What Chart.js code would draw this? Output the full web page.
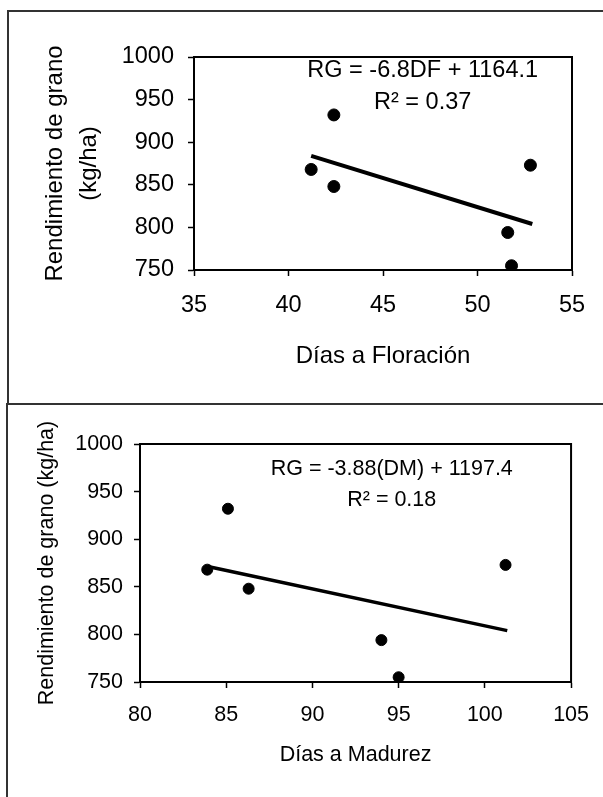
<!DOCTYPE html>
<html>
<head>
<meta charset="utf-8">
<script src="https://cdn.jsdelivr.net/npm/chart.js@4.4.1/dist/chart.umd.min.js"></script>
<style>
  html, body { margin: 0; padding: 0; background: #fff; }
  body { position: relative; width: 603px; height: 797px; overflow: hidden; }
  .caja1 { position: absolute; left: 7px; top: 10px; width: 800px; height: 391px; border: 2px solid #333; border-right: none; }
  .caja2 { position: absolute; left: 6px; top: 403px; width: 800px; height: 500px; border-left: 2px solid #333; }
  canvas { position: absolute; left: 0; }
</style>
</head>
<body>
<div class="caja1"></div>
<div class="caja2"></div>
<canvas id="floracion" width="603" height="403" style="top:0"></canvas>
<canvas id="madurez" width="603" height="394" style="top:403px"></canvas>
<script>
// rendimiento de grano (kg/ha), mismo orden en ambos graficos
const rendimiento = [868, 932, 848, 794, 755, 873];
const diasFloracion = [41.2, 42.4, 42.4, 51.6, 51.8, 52.8];
const diasMadurez = [83.9, 85.1, 86.3, 94.0, 95.0, 101.2];

// lineas de tendencia (extremos)
const tendFloracionX = [41.2, 52.9];
const tendFloracionY = [884, 804];
const tendMadurezX = [84.0, 101.3];
const tendMadurezY = [871, 804];

const ticksRendimiento = [750, 800, 850, 900, 950, 1000];
const ticksFloracion = [35, 40, 45, 50, 55];
const ticksMadurez = [80, 85, 90, 95, 100, 105];

const ecFloracion = ['RG = -6.8DF + 1164.1', 'R\u00B2 = 0.37'];
const ecMadurez = ['RG = -3.88(DM) + 1197.4', 'R\u00B2 = 0.18'];

const FUENTE = '"Liberation Sans", Arial, sans-serif';

const marco = {
  id: 'marco',
  afterDraw(chart) {
    const { ctx, chartArea: a } = chart;
    ctx.save();
    ctx.strokeStyle = '#000';
    ctx.lineWidth = 2;
    ctx.strokeRect(a.left, a.top, a.right - a.left, a.bottom - a.top);
    ctx.restore();
  }
};

const ecuacion = {
  id: 'ecuacion',
  afterDatasetsDraw(chart, args, opts) {
    const { ctx, scales } = chart;
    ctx.save();
    ctx.font = opts.size + 'px ' + FUENTE;
    ctx.fillStyle = '#000';
    ctx.textAlign = 'center';
    ctx.textBaseline = 'middle';
    opts.lineas.forEach((t, i) => {
      ctx.fillText(t, scales.x.getPixelForValue(opts.x), scales.y.getPixelForValue(opts.y[i]));
    });
    ctx.restore();
  }
};

function puntos(xs, ys) {
  return xs.map((v, i) => ({ x: v, y: ys[i] }));
}

function grafico(id, p) {
  return new Chart(document.getElementById(id), {
    type: 'scatter',
    data: {
      datasets: [{
        data: puntos(p.xs, rendimiento),
        backgroundColor: '#000',
        borderColor: '#000',
        pointRadius: p.radio,
        pointBorderWidth: 1,
        pointHoverRadius: p.radio
      }, {
        data: puntos(p.tendX, p.tendY),
        showLine: true,
        borderColor: '#000',
        borderWidth: p.grosor,
        pointRadius: 0,
        borderCapStyle: 'butt'
      }]
    },
    options: {
      responsive: false,
      animation: false,
      layout: { padding: { left: 0, top: p.arriba, right: 31, bottom: 0 } },
      plugins: {
        legend: { display: false },
        tooltip: { enabled: false },
        ecuacion: { lineas: p.ec, x: p.ecX, y: p.ecY, size: p.fEc }
      },
      scales: {
        x: {
          type: 'linear',
          min: p.ticksX[0],
          max: p.ticksX[p.ticksX.length - 1],
          afterBuildTicks: s => { s.ticks = p.ticksX.map(v => ({ value: v })); },
          afterFit: s => { s.height = p.altoX; },
          grid: { drawOnChartArea: false, color: '#000', tickLength: 6, tickWidth: 1.5 },
          border: { color: '#000', width: 2 },
          ticks: { color: '#000', padding: p.padX, font: { family: FUENTE, size: p.fTick }, callback: v => String(v) },
          title: {
            display: true, text: p.tituloX, color: '#000',
            font: { family: FUENTE, size: p.fTit },
            padding: { top: 0, bottom: p.padTitX }
          }
        },
        y: {
          min: 750,
          max: 1000,
          afterBuildTicks: s => { s.ticks = ticksRendimiento.map(v => ({ value: v })); },
          afterFit: s => { s.width = p.anchoY; },
          grid: { drawOnChartArea: false, color: '#000', tickLength: 6, tickWidth: 1.5 },
          border: { color: '#000', width: 2 },
          ticks: { color: '#000', padding: p.padY, font: { family: FUENTE, size: p.fTick }, callback: v => String(v) },
          title: {
            display: true, text: p.tituloY, color: '#000',
            font: { family: FUENTE, size: p.fTit, lineHeight: p.lhTitY },
            padding: { top: p.padTitY, bottom: 0 }
          }
        }
      }
    },
    plugins: [marco, ecuacion]
  });
}

grafico('floracion', {
  xs: diasFloracion, tendX: tendFloracionX, tendY: tendFloracionY,
  ticksX: ticksFloracion, tituloX: 'Días a Floración',
  tituloY: ['Rendimiento de grano', '(kg/ha)'],
  ec: ecFloracion, ecX: 47.1, ecY: [984, 946],
  arriba: 57, anchoY: 194, altoX: 133,
  fTick: 23.5, fTit: 24, fEc: 23.5, lhTitY: 1.42,
  padX: 15, padY: 14, padTitX: 32, padTitY: 38,
  radio: 6, grosor: 4
});

grafico('madurez', {
  xs: diasMadurez, tendX: tendMadurezX, tendY: tendMadurezY,
  ticksX: ticksMadurez, tituloX: 'Días a Madurez',
  tituloY: 'Rendimiento de grano (kg/ha)',
  ec: ecMadurez, ecX: 94.6, ecY: [974, 941],
  arriba: 41, anchoY: 140, altoX: 115,
  fTick: 21.5, fTit: 21.5, fEc: 21.5, lhTitY: 1.2,
  padX: 14, padY: 11, padTitX: 29, padTitY: 34,
  radio: 5.5, grosor: 3.5
});
</script>
</body>
</html>
